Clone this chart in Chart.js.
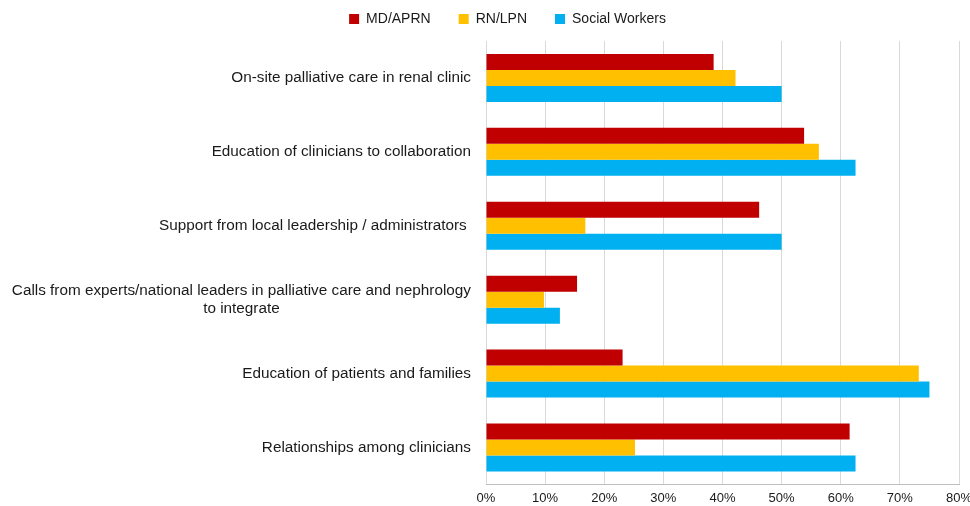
<!DOCTYPE html>
<html>
<head>
<meta charset="utf-8">
<script src="https://cdn.jsdelivr.net/npm/chart.js@4/dist/chart.umd.min.js"></script>
<style>
  html, body { margin: 0; padding: 0; background: #fff; }
  #wrap { width: 970px; height: 506px; }
</style>
</head>
<body>
<div id="wrap"><canvas id="myChart"></canvas></div>
<script>
const categories = [
  'On-site palliative care in renal clinic',
  'Education of clinicians to collaboration',
  'Support from local leadership / administrators ',
  ['Calls from experts/national leaders in palliative care and nephrology', 'to integrate'],
  'Education of patients and families',
  'Relationships among clinicians',
];
const mdAprn = [38.5, 53.8, 46.2, 15.4, 23.1, 61.5];
const rnLpn = [42.2, 56.3, 16.8, 9.8, 73.2, 25.2];
const socialWorkers = [50, 62.5, 50, 12.5, 75, 62.5];
const xTickLabels = ['0%', '10%', '20%', '30%', '40%', '50%', '60%', '70%', '80%'];

const COLORS = {
  red: '#C00000',
  yellow: '#FFC000',
  blue: '#00B0F0',
  text: '#1a1a1a',
};
const FONT = '"Liberation Sans", Arial, Helvetica, sans-serif';

// y labels drawn by hand so the two-line label is centred like the original
const yLabels = {
  id: 'yLabels',
  afterDraw(chart) {
    const scale = chart.scales.y;
    const { ctx } = chart;
    ctx.save();
    ctx.font = '15.3px ' + FONT;
    ctx.fillStyle = COLORS.text;
    ctx.textBaseline = 'middle';
    const right = scale.right - 15;
    categories.forEach((label, i) => {
      const lines = Array.isArray(label) ? label : [label];
      const y = scale.getPixelForValue(i);
      const widest = Math.max(...lines.map((l) => ctx.measureText(l).width));
      lines.forEach((line, j) => {
        const ly = y + (j - (lines.length - 1) / 2) * 18;
        if (lines.length > 1) {
          ctx.textAlign = 'center';
          ctx.fillText(line, right - widest / 2, ly);
        } else {
          ctx.textAlign = 'right';
          ctx.fillText(line, right, ly);
        }
      });
    });
    ctx.restore();
  },
};

// a bit more room between legend and plot
const legendGap = {
  id: 'legendGap',
  afterInit(chart) {
    const legend = chart.legend;
    if (!legend) return;
    const fit = legend.fit;
    legend.fit = function () {
      fit.call(this);
      this.height += 5;
    };
  },
};

const ctx = document.getElementById('myChart').getContext('2d');
new Chart(ctx, {
  type: 'bar',
  data: {
    labels: categories,
    datasets: [
      { label: 'MD/APRN', data: mdAprn, backgroundColor: COLORS.red },
      { label: 'RN/LPN', data: rnLpn, backgroundColor: COLORS.yellow },
      { label: 'Social Workers', data: socialWorkers, backgroundColor: COLORS.blue },
    ],
  },
  options: {
    indexAxis: 'y',
    responsive: true,
    maintainAspectRatio: false,
    animation: false,
    layout: { padding: { left: 56, right: 11, top: -16, bottom: -6 } },
    datasets: {
      bar: { barPercentage: 1, categoryPercentage: 0.65 },
    },
    plugins: {
      legend: {
        position: 'top',
        labels: {
          boxWidth: 10,
          boxHeight: 10,
          padding: 28,
          color: COLORS.text,
          font: { family: FONT, size: 14 },
        },
      },
      tooltip: { enabled: false },
    },
    scales: {
      x: {
        min: 0,
        max: 80,
        ticks: {
          stepSize: 10,
          padding: 6,
          color: COLORS.text,
          font: { family: FONT, size: 13 },
          callback: (v, i) => xTickLabels[i],
        },
        grid: { color: '#d9d9d9', drawTicks: false },
        border: { color: '#bfbfbf' },
        afterFit(scale) {
          scale.paddingLeft = 0;
          scale.paddingRight = 0;
        },
      },
      y: {
        ticks: { display: false },
        grid: { display: false },
        border: { display: false },
        afterFit(scale) { scale.width = 430; },
      },
    },
  },
  plugins: [yLabels, legendGap],
});
</script>
</body>
</html>
